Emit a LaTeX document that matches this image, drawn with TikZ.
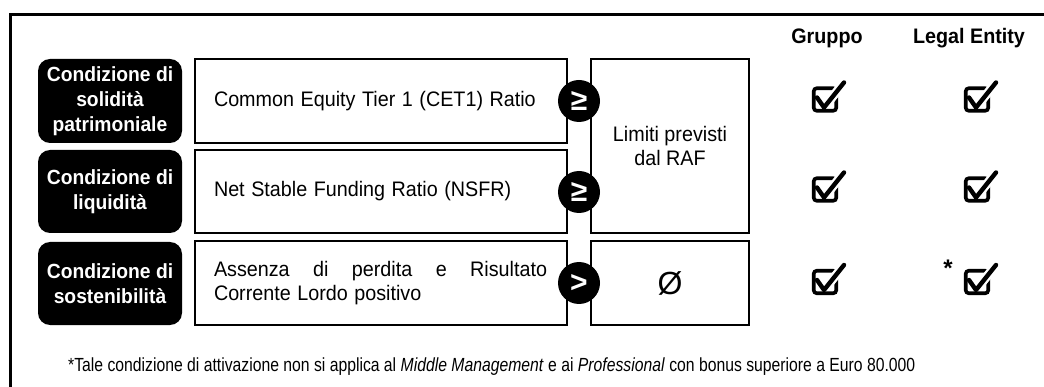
\documentclass[tikz,border=0pt]{standalone}
\usepackage{fontspec}
\setmainfont{Liberation Sans}
\usepackage{graphicx}
\newcommand\nr[1]{\scalebox{0.94}[1]{#1}}
\tikzset{
  cond/.style={fill=black, rounded corners=12pt, text=white, inner sep=0pt,
    font=\fontsize{20.5}{25}\selectfont\bfseries, align=center, minimum width=144pt},
  wbox/.style={draw, line width=2pt, inner sep=0pt, minimum width=372pt,
    text width=334pt, align=left, font=\fontsize{21}{23.5}\selectfont},
  rbox/.style={draw, line width=2pt, inner sep=0pt, minimum width=158pt,
    align=center, font=\fontsize{21}{23.5}\selectfont},
  cmp/.style={circle, fill=black, minimum size=42pt, inner sep=0pt, text=white,
    font=\fontsize{30}{30}\selectfont\bfseries},
  head/.style={font=\fontsize{21}{24}\selectfont\bfseries, inner sep=0pt},
  chk/.style={draw, line width=3.6pt, rounded corners=3pt, minimum size=22.5pt, inner sep=0pt},
  tick/.style={line width=4.4pt, line join=round, line cap=round},
  tickgap/.style={white, line width=9pt, line cap=round},
}
\newcommand\mycheck[1]{%
  \draw[tickgap] ([shift={(3,3)}]#1.center) -- ([shift={(19,-17)}]#1.center);
  \draw[tick] ([shift={(-8,-2)}]#1.center) -- ([shift={(-1,8)}]#1.center) -- ([shift={(19,-17)}]#1.center);}
\begin{document}
\begin{tikzpicture}[x=1pt,y=-1pt]
\useasboundingbox (0,0) rectangle (1044,387);
% frame
\draw[line width=3pt] (10,390) -- (10,15) -- (1046,15);
% headers
\node[head] (hG) at (827,38) {\nr{Gruppo}};
\node[head] (hL) at (969,38) {\nr{Legal Entity}};
% condition labels
\node[cond, minimum height=84pt] (c1) at (110,101) {\nr{Condizione di}\\\nr{solidità}\\\nr{patrimoniale}};
\node[cond, minimum height=83pt] (c2) at (110,191.5) {\nr{Condizione di}\\\nr{liquidità}};
\node[cond, minimum height=83pt] (c3) at (110,283.5) {\nr{Condizione di}\\\nr{sostenibilità}};
% metric boxes
\node[wbox, minimum height=84pt] (m1) at (381,101) {\nr{Common Equity Tier 1 (CET1) Ratio}};
\node[wbox, minimum height=83pt] (m2) at (381,191.5) {\nr{Net Stable Funding Ratio (NSFR)}};
\node[wbox, minimum height=84pt] (m3) at (381,283) {\hbox to 333pt{\nr{Assenza}\hfill\nr{di}\hfill\nr{perdita}\hfill\nr{e}\hfill\nr{Risultato}}\\\nr{Corrente Lordo positivo}};
% limit boxes
\node[rbox, minimum height=174pt] (l12) at (670,146) {\nr{Limiti previsti}\\\nr{dal RAF}};
\node[rbox, minimum height=84pt, font=\fontsize{32}{32}\selectfont] (l3) at (670,283) {Ø};
% comparison circles
\node[cmp] (o1) at (579,101) {≥};
\node[cmp] (o2) at (579,192) {≥};
\node[cmp] (o3) at (579,283) {>};
% checkboxes
\node[chk] (g1) at (825,99.5) {};
\node[chk] (g2) at (825,189.5) {};
\node[chk] (g3) at (825,282) {};
\node[chk] (e1) at (977,99.5) {};
\node[chk] (e2) at (977,189.5) {};
\node[chk] (e3) at (977,282) {};
\mycheck{g1}\mycheck{g2}\mycheck{g3}\mycheck{e1}\mycheck{e2}\mycheck{e3}
\node[font=\fontsize{24}{24}\selectfont\bfseries, inner sep=0pt] (ast) at (948,268) {*};
% footnote
\node[anchor=west, inner sep=0pt] (fn) at (68,367) {\resizebox{847pt}{\height}{\fontsize{19}{22}\selectfont *Tale condizione di attivazione non si applica al \textit{Middle Management} e ai \textit{Professional} con bonus superiore a Euro 80.000}};
\end{tikzpicture}
\end{document}
